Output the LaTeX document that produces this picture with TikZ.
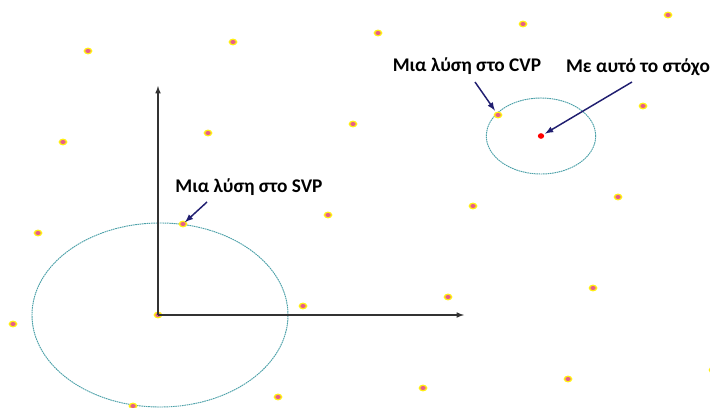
\documentclass[tikz,border=0pt]{standalone}
\usepackage{fontspec}
\setmainfont{Carlito}
\definecolor{dotyellow}{RGB}{255,238,20}
\definecolor{dotpink}{RGB}{230,95,135}
\definecolor{ringteal}{RGB}{75,160,168}
\definecolor{arrownavy}{RGB}{32,30,112}
\tikzset{
  ring/.style={ringteal, line width=0.7pt, dash pattern=on 1.2pt off 0.5pt},
  axis/.style={->,>=latex, black!80, line width=0.9pt},
  pointer/.style={->,>=latex, arrownavy, line width=1.1pt},
  lbl/.style={font=\bfseries\fontsize{14.5}{16}\selectfont, inner sep=1pt}
}
\begin{document}
\begin{tikzpicture}[x=0.75pt,y=-0.75pt]
  \useasboundingbox (0,0) rectangle (710,407);
  \clip (0,0) rectangle (710,407);
  % lattice points  p<i><j> = O + i*b1 + j*b2
  \foreach \i in {-1,...,4}
    \foreach \j in {-1,...,3}
      \coordinate (p\i\j) at ({158+145*(\i)+25*(\j)},{315-9*(\i)-91*(\j)});
  \coordinate (target) at (541,136);
  % balls around the origin and the target
  \draw[ring] (160,315) ellipse [x radius=96pt, y radius=69pt];
  \draw[ring] (target) ellipse [x radius=41pt, y radius=28.5pt];
  \foreach \i in {-1,...,4}
    \foreach \j in {-1,...,3} {
      \fill[dotyellow] (p\i\j) ellipse [x radius=3.3pt, y radius=2.6pt];
      \fill[dotpink] (p\i\j) ellipse [x radius=2pt, y radius=1.5pt];
    }
  \fill[red] (target) ellipse [x radius=2.4pt, y radius=2.1pt];
  % axes
  \coordinate (yend) at (158,86);
  \coordinate (xend) at (464,315);
  \draw[axis] (p00) -- (yend);
  \draw[axis] (p00) -- (xend);
  % labels
  \node[lbl] (svplbl) at (249,187) {Μια λύση στο SVP};
  \node[lbl] (cvplbl) at (467,66) {Μια λύση στο CVP};
  \node[lbl] (tgtlbl) at (638,67) {Με αυτό το στόχο};
  \coordinate (svptail) at (207,202);
  \coordinate (cvptail) at (475,82);
  \coordinate (tgttail) at (632,82);
  \draw[pointer, shorten >=2pt] (svptail) -- (p01);
  \draw[pointer, shorten >=4pt] (cvptail) -- (p22);
  \draw[pointer, shorten >=3.5pt] (tgttail) -- (target);
\end{tikzpicture}
\end{document}
